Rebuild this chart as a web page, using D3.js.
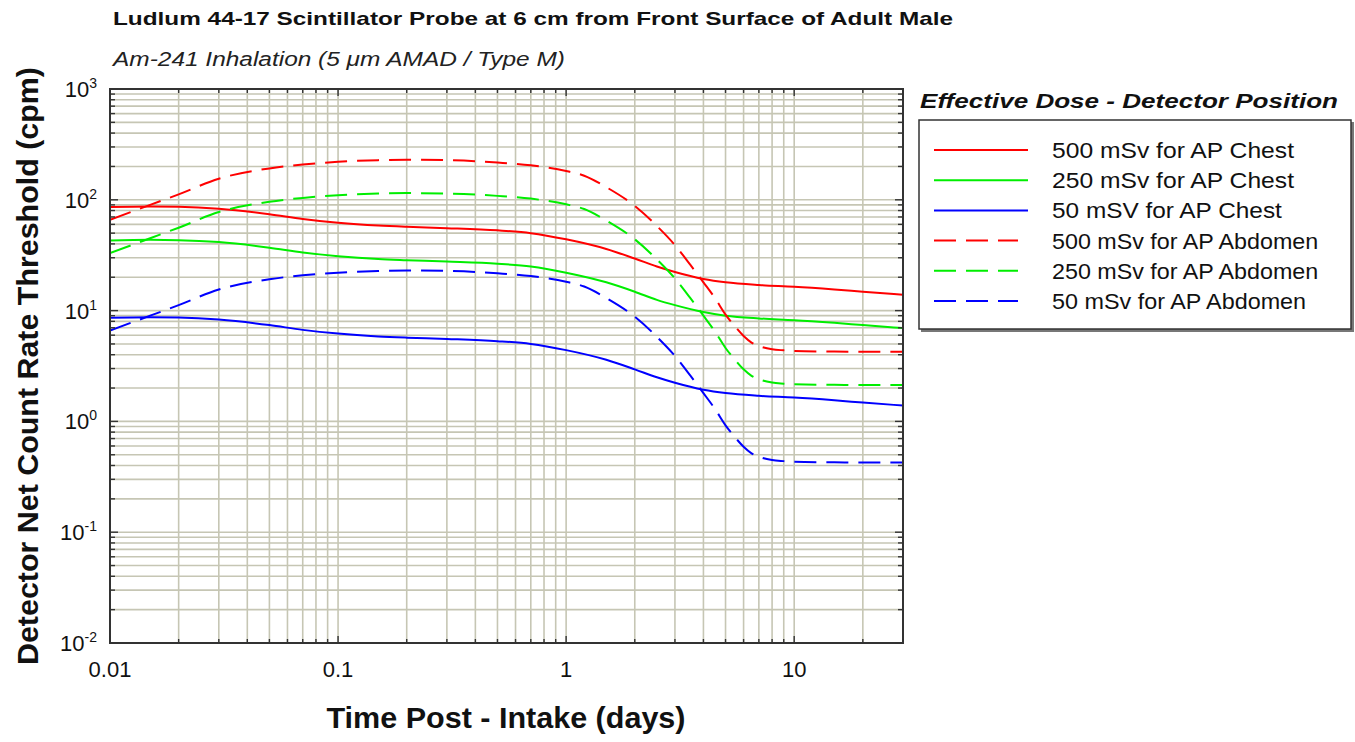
<!DOCTYPE html>
<html>
<head>
<meta charset="utf-8">
<script src="https://cdn.jsdelivr.net/npm/d3@7"></script>
<style>
  html, body { margin: 0; padding: 0; background: #ffffff; }
  svg { display: block; font-family: Arial, "Liberation Sans", sans-serif; }
</style>
</head>
<body>
<svg id="chart" width="1355" height="742"></svg>
<script>
// ---------------- DATA ----------------
const chartTitle = "Ludlum 44-17 Scintillator Probe at 6 cm from Front Surface of Adult Male";
const chartSubtitle = "Am-241 Inhalation (5 \u03BCm AMAD / Type M)";
const xAxisTitle = "Time Post - Intake (days)";
const yAxisTitle = "Detector Net Count Rate Threshold (cpm)";
const legendTitle = "Effective Dose - Detector Position";

const xTickValues = [0.01, 0.1, 1, 10];
const xTickLabels = ["0.01", "0.1", "1", "10"];
const yTickExponents = [-2, -1, 0, 1, 2, 3];

// time points (days)
const timeChest = [0.01, 0.015, 0.02, 0.03, 0.05, 0.07, 0.1, 0.15, 0.2, 0.3, 0.5, 0.7, 1, 1.5, 2, 2.5, 3, 4, 5, 7, 10, 15, 20, 30];
const chest500 = [86, 87, 86.5, 83, 74, 67, 62, 58.5, 57, 55.5, 53, 50, 44, 36, 29.5, 25, 22.3, 19.3, 18, 17, 16.4, 15.5, 14.8, 13.9];
const chest250 = [43, 43.5, 43.2, 41.5, 37, 33.5, 31, 29.2, 28.5, 27.7, 26.5, 25, 22, 18, 14.8, 12.5, 11.2, 9.7, 9, 8.5, 8.2, 7.75, 7.4, 6.95];
const chest50 = [8.6, 8.7, 8.65, 8.3, 7.4, 6.7, 6.2, 5.85, 5.7, 5.55, 5.3, 5.0, 4.4, 3.6, 2.95, 2.5, 2.23, 1.93, 1.8, 1.7, 1.64, 1.55, 1.48, 1.39];

const timeAbdomen = [0.01, 0.015, 0.02, 0.03, 0.05, 0.07, 0.1, 0.15, 0.2, 0.3, 0.5, 0.7, 1, 1.2, 1.5, 2, 2.5, 3, 3.5, 4, 4.5, 5, 5.5, 6, 6.5, 7, 8, 9, 10, 15, 20, 30];
const abdomen500 = [66, 90, 112, 155, 192, 208, 220, 228, 230, 228, 217, 205, 182, 165, 130, 88, 58, 39, 26, 18, 12.9, 9.2, 7.2, 5.9, 5.15, 4.8, 4.48, 4.38, 4.32, 4.27, 4.26, 4.26];
const abdomen250 = [33, 45, 56, 77.5, 96, 104, 110, 114, 115, 114, 108.5, 102.5, 91, 82.5, 65, 44, 29, 19.5, 13, 9, 6.45, 4.6, 3.6, 2.95, 2.58, 2.4, 2.24, 2.19, 2.16, 2.14, 2.13, 2.13];
const abdomen50 = [6.6, 9, 11.2, 15.5, 19.2, 20.8, 22, 22.8, 23, 22.8, 21.7, 20.5, 18.2, 16.5, 13, 8.8, 5.8, 3.9, 2.6, 1.8, 1.29, 0.92, 0.72, 0.59, 0.515, 0.48, 0.448, 0.438, 0.432, 0.427, 0.426, 0.426];

const seriesNames = ["500 mSv for AP Chest", "250 mSv for AP Chest", "50 mSV for AP Chest",
                     "500 mSv for AP Abdomen", "250 mSv for AP Abdomen", "50 mSv for AP Abdomen"];

// ---------------- BUILD ----------------
const series = [
  { name: seriesNames[0], t: timeChest, v: chest500, color: "#ff0000", dashed: false },
  { name: seriesNames[1], t: timeChest, v: chest250, color: "#00ee00", dashed: false },
  { name: seriesNames[2], t: timeChest, v: chest50, color: "#0000ff", dashed: false },
  { name: seriesNames[3], t: timeAbdomen, v: abdomen500, color: "#ff0000", dashed: true },
  { name: seriesNames[4], t: timeAbdomen, v: abdomen250, color: "#00ee00", dashed: true },
  { name: seriesNames[5], t: timeAbdomen, v: abdomen50, color: "#0000ff", dashed: true }
];

const svg = d3.select("#chart");
const L = 110, R = 903, T = 89, B = 643;

const x = d3.scaleLog().domain([0.01, 30]).range([L, R]);
const y = d3.scaleLog().domain([0.01, 1000]).range([B, T]);

// minor values
const xGrid = [];
for (let e = -2; e <= 1; e++) for (let m = 1; m <= 9; m++) {
  const v = m * Math.pow(10, e);
  if (v >= 0.01 && v <= 30) xGrid.push(v);
}
const yGrid = [];
for (let e = -2; e <= 2; e++) for (let m = 1; m <= 9; m++) yGrid.push(m * Math.pow(10, e));
yGrid.push(1000);

const gridColor = "#c6c6b4";
const grid = svg.append("g");
grid.selectAll("line.gx").data(xGrid).join("line")
  .attr("x1", d => x(d)).attr("x2", d => x(d)).attr("y1", T).attr("y2", B)
  .attr("stroke", gridColor).attr("stroke-width", 1.6);
grid.selectAll("line.gy").data(yGrid).join("line")
  .attr("y1", d => y(d)).attr("y2", d => y(d)).attr("x1", L).attr("x2", R)
  .attr("stroke", gridColor).attr("stroke-width", 1.6);

// clip
svg.append("clipPath").attr("id", "clip").append("rect")
  .attr("x", L).attr("y", T).attr("width", R - L).attr("height", B - T);

const line = d3.line()
  .x(d => x(d[0])).y(d => y(d[1]))
  .curve(d3.curveMonotoneX);

const plot = svg.append("g").attr("clip-path", "url(#clip)");
plot.selectAll("path").data(series).join("path")
  .attr("d", s => line(s.t.map((t, i) => [t, s.v[i]])))
  .attr("fill", "none")
  .attr("stroke", s => s.color)
  .attr("stroke-width", 2)
  .attr("stroke-dasharray", s => s.dashed ? "22,10" : null);

// frame
const frameColor = "#333333";
svg.append("rect").attr("x", L).attr("y", T).attr("width", R - L).attr("height", B - T)
  .attr("fill", "none").attr("stroke", frameColor).attr("stroke-width", 2);

// ticks
const ticks = svg.append("g").attr("stroke", frameColor).attr("stroke-width", 1.4);
const isMajor = v => Math.abs(Math.log10(v) - Math.round(Math.log10(v))) < 1e-9;
ticks.selectAll("line.bx").data(xGrid).join("line")
  .attr("x1", d => x(d)).attr("x2", d => x(d)).attr("y1", B).attr("y2", d => B - (isMajor(d) ? 7 : 4));
ticks.selectAll("line.tx").data(xGrid).join("line")
  .attr("x1", d => x(d)).attr("x2", d => x(d)).attr("y1", T).attr("y2", d => T + (isMajor(d) ? 7 : 4));
ticks.selectAll("line.ly").data(yGrid).join("line")
  .attr("y1", d => y(d)).attr("y2", d => y(d)).attr("x1", L).attr("x2", d => L + (isMajor(d) ? 8 : 5));
ticks.selectAll("line.ry").data(yGrid).join("line")
  .attr("y1", d => y(d)).attr("y2", d => y(d)).attr("x1", R).attr("x2", d => R - (isMajor(d) ? 8 : 5));

// x tick labels
svg.append("g").selectAll("text").data(xTickValues).join("text")
  .attr("x", d => x(d)).attr("y", 677)
  .attr("text-anchor", "middle").attr("font-size", 22).attr("fill", "#111")
  .text((d, i) => xTickLabels[i]);

// y tick labels
const yl = svg.append("g").selectAll("text").data(yTickExponents).join("text")
  .attr("x", 97).attr("y", d => y(Math.pow(10, d)) + 8)
  .attr("text-anchor", "end").attr("font-size", 22).attr("fill", "#111");
yl.append("tspan").text("10");
yl.append("tspan").attr("dy", -9).attr("font-size", 14).text(d => String(d));

// titles
svg.append("text").attr("x", 113).attr("y", 25)
  .attr("font-size", 19).attr("font-weight", "bold").attr("fill", "#111")
  .attr("textLength", 840).attr("lengthAdjust", "spacingAndGlyphs")
  .text(chartTitle);
svg.append("text").attr("x", 113).attr("y", 66)
  .attr("font-size", 20).attr("font-style", "italic").attr("fill", "#222")
  .attr("textLength", 452).attr("lengthAdjust", "spacingAndGlyphs")
  .text(chartSubtitle);

svg.append("text").attr("x", 506).attr("y", 728)
  .attr("text-anchor", "middle").attr("font-size", 29).attr("font-weight", "bold").attr("fill", "#111")
  .attr("textLength", 359).attr("lengthAdjust", "spacingAndGlyphs")
  .text(xAxisTitle);

svg.append("text").attr("transform", "translate(38,366) rotate(-90)")
  .attr("text-anchor", "middle").attr("font-size", 30).attr("font-weight", "bold").attr("fill", "#111")
  .attr("textLength", 598).attr("lengthAdjust", "spacingAndGlyphs")
  .text(yAxisTitle);

// legend
svg.append("text").attr("x", 920).attr("y", 108)
  .attr("font-size", 20).attr("font-weight", "bold").attr("font-style", "italic").attr("fill", "#111")
  .attr("textLength", 418).attr("lengthAdjust", "spacingAndGlyphs")
  .text(legendTitle);

svg.append("rect").attr("x", 921).attr("y", 122).attr("width", 433).attr("height", 210)
  .attr("fill", "#777");
svg.append("rect").attr("x", 919).attr("y", 120).attr("width", 432).attr("height", 209)
  .attr("fill", "#fff").attr("stroke", "#333").attr("stroke-width", 1.5);

const lg = svg.append("g").selectAll("g").data(series).join("g")
  .attr("transform", (d, i) => `translate(0,${150 + i * 30.2})`);
lg.append("line")
  .attr("x1", 934).attr("x2", s => s.dashed ? 1018 : 1028).attr("y1", 0).attr("y2", 0)
  .attr("stroke", s => s.color).attr("stroke-width", 2)
  .attr("stroke-dasharray", s => s.dashed ? "22,10" : null);
lg.append("text").attr("x", 1052).attr("y", 8)
  .attr("font-size", 22).attr("fill", "#111")
  .attr("textLength", s => s.name.length * 12.1)
  .attr("lengthAdjust", "spacingAndGlyphs")
  .text(s => s.name);
</script>
</body>
</html>
